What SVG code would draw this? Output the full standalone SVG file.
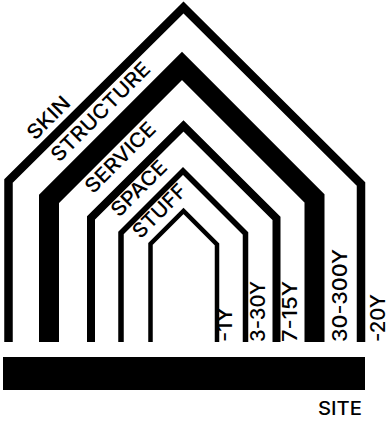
<svg xmlns="http://www.w3.org/2000/svg" width="389" height="422" viewBox="0 0 389 422">
<style>
.ln{fill:none;stroke:#000;stroke-linejoin:miter;stroke-linecap:butt;stroke-miterlimit:10}
.t{font-family:Inter,"Liberation Sans",Arial,sans-serif;fill:#000;font-weight:500}
.sl{font-size:20px}
.vl{font-size:20px}
</style>
<rect width="389" height="422" fill="#fff"/>
<g id="skin">
<polyline class="ln" stroke-width="8.5" points="8.5,342 8.5,181 183.5,7.5 361,184 361,342"/>
<text class="t sl" transform="translate(35,141) rotate(-45)" textLength="52" lengthAdjust="spacingAndGlyphs">SKIN</text>
<text class="t vl" transform="translate(385,342) rotate(-90)" textLength="48" lengthAdjust="spacingAndGlyphs">-20Y</text>
</g>
<g id="structure">
<polyline class="ln" stroke-width="20" points="49,342 49,199 182,66 314.5,198.5 314.5,342"/>
<text class="t sl" transform="translate(59,163) rotate(-45)" textLength="131" lengthAdjust="spacingAndGlyphs">STRUCTURE</text>
<text class="t vl" transform="translate(347,342) rotate(-90)" textLength="93" lengthAdjust="spacingAndGlyphs">30-300Y</text>
</g>
<g id="service">
<polyline class="ln" stroke-width="8" points="91,342 91,218 183.5,126 276.5,218.5 276.5,342"/>
<text class="t sl" transform="translate(93,194.5) rotate(-45)" textLength="91" lengthAdjust="spacingAndGlyphs">SERVICE</text>
<text class="t vl" transform="translate(297,342) rotate(-90)" textLength="61" lengthAdjust="spacingAndGlyphs">7-15Y</text>
</g>
<g id="space">
<polyline class="ln" stroke-width="5.5" points="121,342 121,233 183,171 245.5,233.5 245.5,342"/>
<text class="t sl" transform="translate(119,218) rotate(-45)" textLength="70" lengthAdjust="spacingAndGlyphs">SPACE</text>
<text class="t vl" transform="translate(265,342) rotate(-90)" textLength="61" lengthAdjust="spacingAndGlyphs">3-30Y</text>
</g>
<g id="stuff">
<polyline class="ln" stroke-width="4.5" points="150.5,342 150.5,244 183.5,211 217,244.5 217,342"/>
<text class="t sl" transform="translate(140.5,239.5) rotate(-45)" textLength="67" lengthAdjust="spacingAndGlyphs">STUFF</text>
<text class="t vl" transform="translate(232,342) rotate(-90)" textLength="35" lengthAdjust="spacingAndGlyphs">-1Y</text>
</g>
<g id="site">
<rect x="3" y="357" width="362" height="33" fill="#000"/>
<text class="t" font-size="18.5" x="362" y="415" text-anchor="end" textLength="44" lengthAdjust="spacingAndGlyphs">SITE</text>
</g>
</svg>
